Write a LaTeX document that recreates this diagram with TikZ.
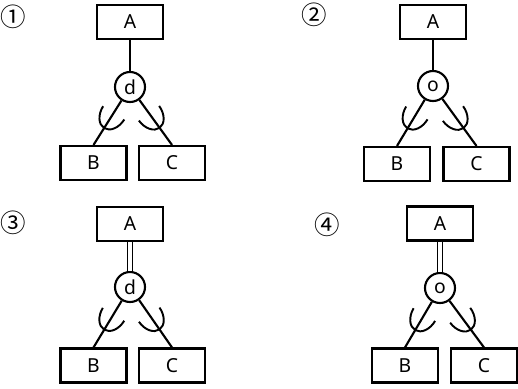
\documentclass[tikz,border=0pt]{standalone}
\usepackage{fontspec}
\setmainfont{Noto Sans}
\newfontfamily\numfont{Noto Sans CJK KR}
\usepackage{tikz}
\usetikzlibrary{decorations.markings}

\tikzset{
  entity/.style={draw, rectangle, minimum width=1.32cm, minimum height=0.68cm, inner sep=0pt, font=\fontsize{11}{13}\selectfont},
  spec/.style={draw, circle, minimum size=0.6cm, inner sep=0pt, font=\fontsize{11}{13}\selectfont},
  num/.style={font=\numfont\fontsize{14.5}{16}\selectfont},
  % cup drawn across a line, open towards the circle
  subsetarc/.style={postaction={decorate, decoration={markings,
      mark=at position #1 with {\draw[line width=1.1pt] (0,0)
        ++(-0.36,0.25) arc[start angle=90, end angle=-90, x radius=0.36, y radius=0.25];}}}},
  total/.style={double, double distance=1.8pt, line width=0.9pt},
}

\begin{document}
\begin{tikzpicture}[line width=1.2pt]
\useasboundingbox (0,0) rectangle (10.36,-7.76);

% (1) disjoint, partial
\node[num] (n1) at (0.27,-0.34) {①};
\node[entity] (a1) at (2.6,-0.44) {A};
\node[spec] (d1) at (2.6,-1.74) {d};
\node[entity] (b1) at (1.87,-3.26) {B};
\node[entity] (c1) at (3.44,-3.26) {C};
\draw (a1) -- (d1);
\draw[subsetarc=0.62] (d1) -- (b1.north);
\draw[subsetarc=0.62] (d1) -- (c1.north);

% (2) overlapping, partial
\node[num] (n2) at (6.28,-0.3) {②};
\node[entity] (a2) at (8.66,-0.44) {A};
\node[spec] (d2) at (8.66,-1.72) {o};
\node[entity] (b2) at (7.94,-3.28) {B};
\node[entity] (c2) at (9.53,-3.28) {C};
\draw (a2) -- (d2);
\draw[subsetarc=0.62] (d2) -- (b2.north);
\draw[subsetarc=0.62] (d2) -- (c2.north);

% (3) disjoint, total
\node[num] (n3) at (0.27,-4.46) {③};
\node[entity] (a3) at (2.6,-4.48) {A};
\node[spec] (d3) at (2.6,-5.74) {d};
\node[entity] (b3) at (1.87,-7.31) {B};
\node[entity] (c3) at (3.44,-7.31) {C};
\draw[total] (a3) -- (d3);
\draw[subsetarc=0.62] (d3) -- (b3.north);
\draw[subsetarc=0.62] (d3) -- (c3.north);

% (4) overlapping, total
\node[num] (n4) at (6.54,-4.5) {④};
\node[entity] (a4) at (8.8,-4.47) {A};
\node[spec] (d4) at (8.8,-5.76) {o};
\node[entity] (b4) at (8.1,-7.31) {B};
\node[entity] (c4) at (9.68,-7.31) {C};
\draw[total] (a4) -- (d4);
\draw[subsetarc=0.62] (d4) -- (b4.north);
\draw[subsetarc=0.62] (d4) -- (c4.north);

\end{tikzpicture}
\end{document}
